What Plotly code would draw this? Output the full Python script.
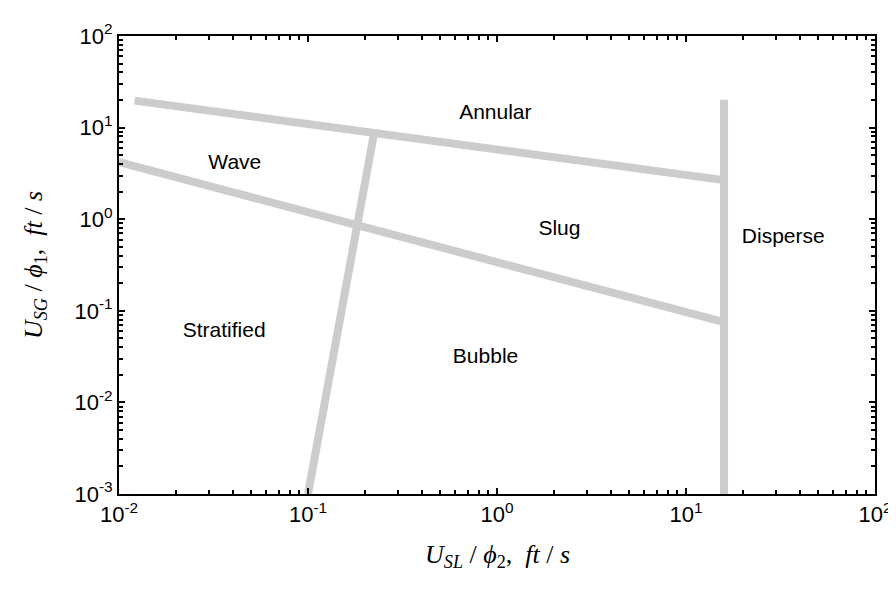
import plotly.graph_objects as go

# Boundary lines (log-log coordinates)
annular_x = [0.0121, 15.9]
annular_y = [19.7, 2.67]
wave_x = [0.01, 15.9]
wave_y = [4.2, 0.075]
strat_x = [0.1, 0.224]
strat_y = [0.001, 8.87]
disp_x = [15.9, 15.9]
disp_y = [0.001, 20.2]

# Region labels
region_names = ["Annular", "Wave", "Slug", "Disperse", "Stratified", "Bubble"]
region_x = [0.98, 0.041, 2.14, 32.7, 0.036, 0.87]
region_y = [14.3, 4.0, 0.77, 0.63, 0.059, 0.031]

# Tick labels
x_tickvals = [0.01, 0.1, 1, 10, 100]
x_ticktext = ["10<sup>-2</sup>", "10<sup>-1</sup>", "10<sup>0</sup>", "10<sup>1</sup>", "10<sup>2</sup>"]
y_tickvals = [0.001, 0.01, 0.1, 1, 10, 100]
y_ticktext = ["10<sup>-3</sup>", "10<sup>-2</sup>", "10<sup>-1</sup>", "10<sup>0</sup>", "10<sup>1</sup>", "10<sup>2</sup>"]

LINE_COLOR = "#cccccc"
SANS = "Arial, Liberation Sans, sans-serif"
SERIF = "Times New Roman, Liberation Serif, serif"

fig = go.Figure()
for xs, ys in [(annular_x, annular_y), (wave_x, wave_y), (strat_x, strat_y), (disp_x, disp_y)]:
    fig.add_trace(go.Scatter(x=xs, y=ys, mode="lines",
                             line=dict(color=LINE_COLOR, width=8),
                             showlegend=False, hoverinfo="skip"))

fig.add_trace(go.Scatter(x=region_x, y=region_y, mode="text", text=region_names,
                         textfont=dict(family=SANS, size=21, color="black"),
                         textposition="middle center", showlegend=False, hoverinfo="skip"))

axis_common = dict(
    type="log", showgrid=False, zeroline=False,
    showline=True, linecolor="black", linewidth=2, mirror="allticks",
    ticks="inside", ticklen=6, tickwidth=1.5, tickcolor="black",
    tickfont=dict(family=SANS, size=22, color="black"),
    minor=dict(ticks="inside", ticklen=4, tickwidth=1.5, tickcolor="black", dtick="D1", showgrid=False),
)

fig.update_xaxes(range=[-2, 2], tickmode="array", tickvals=x_tickvals, ticktext=x_ticktext, **axis_common)
fig.update_yaxes(range=[-3, 2], tickmode="array", tickvals=y_tickvals, ticktext=y_ticktext, **axis_common)

fig.add_annotation(xref="paper", yref="paper", x=0.5, y=0, xanchor="center", yanchor="middle",
                   yshift=-62, showarrow=False,
                   text="<i>U</i><sub><i>SL</i></sub> / <i>ϕ</i><sub>2</sub>,  <i>ft</i> / <i>s</i>",
                   font=dict(family=SERIF, size=26, color="black"))
fig.add_annotation(xref="paper", yref="paper", x=0, y=0.5, xanchor="center", yanchor="middle",
                   xshift=-84, showarrow=False, textangle=-90,
                   text="<i>U</i><sub><i>SG</i></sub> / <i>ϕ</i><sub>1</sub>,  <i>ft</i> / <i>s</i>",
                   font=dict(family=SERIF, size=26, color="black"))

fig.update_layout(
    width=896, height=592,
    margin=dict(l=111, r=18, t=25, b=106),
    paper_bgcolor="white", plot_bgcolor="white",
)

fig.write_html("out.html")
